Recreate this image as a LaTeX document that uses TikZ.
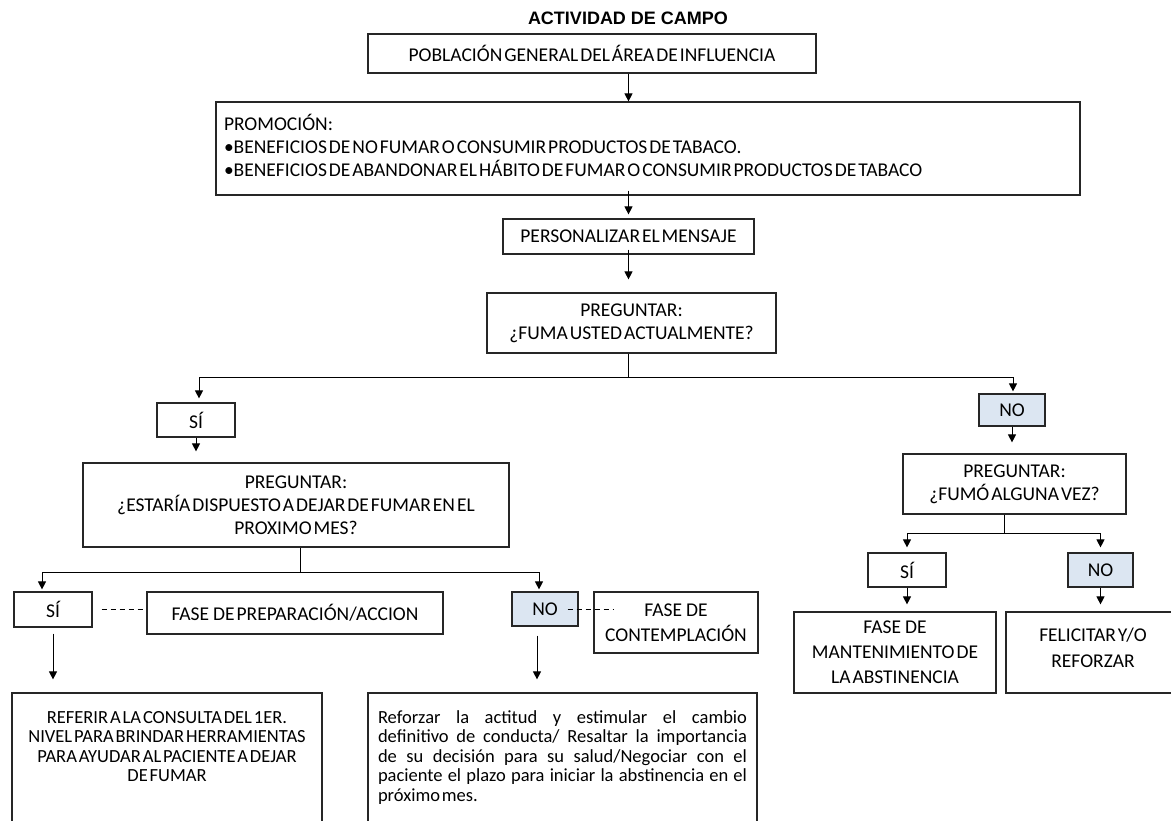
\documentclass[tikz,border=0pt]{standalone}
\usepackage{fontspec}
\setmainfont{Carlito}[WordSpace=0.45]
\newfontfamily\arial{Liberation Sans}
\usetikzlibrary{arrows.meta}
\definecolor{azulclaro}{RGB}{220,230,242}

\begin{document}
\begin{tikzpicture}[x=1pt,y=-1pt,line width=1pt,
  caja/.style={draw=black!85,line width=1.2pt,rectangle,align=center,font=\fontsize{19.5}{23}\selectfont},
  cajano/.style={caja,fill=azulclaro},
  cajabaja/.style={caja,font=\fontsize{18.5}{19.5}\selectfont},
  flecha/.style={-{Triangle[length=8pt,width=8pt]}},
  discont/.style={dash pattern=on 5pt off 4pt}]
\tikzstyle{every node}+=[inner sep=0pt]
\useasboundingbox (0,0) rectangle (1171,820);
\clip (0,0) rectangle (1171,820);
\node (titulo) at (628,18) {\arial\bfseries\fontsize{18}{20}\selectfont ACTIVIDAD DE CAMPO};
\node[caja,minimum width=448pt,minimum height=39pt] (poblacion) at (592,53.5) {POBLACIÓN GENERAL DEL ÁREA DE INFLUENCIA};
\node[caja,minimum width=864pt,minimum height=93pt,text width=848pt,align=left] (promocion) at (648,148.5) {\spaceskip=0pt\relax PROMOCIÓN:\\ •BENEFICIOS DE NO FUMAR O CONSUMIR PRODUCTOS DE TABACO.\\ •BENEFICIOS DE ABANDONAR EL HÁBITO DE FUMAR O CONSUMIR PRODUCTOS DE TABACO\vspace{6pt}};
\node[caja,minimum width=251pt,minimum height=35pt] (personalizar) at (628.5,236.5) {PERSONALIZAR EL MENSAJE};
\node[caja,minimum width=289pt,minimum height=60pt] (fuma) at (631.5,323) {PREGUNTAR:\\ ¿FUMA USTED ACTUALMENTE?};
\coordinate (cruce1) at (628,377);
\node[caja,minimum width=78pt,minimum height=34pt] (si1) at (196,420) {SÍ};
\node[caja,minimum width=426pt,minimum height=84pt] (dispuesto) at (296,505) {PREGUNTAR:\\ ¿ESTARÍA DISPUESTO A DEJAR DE FUMAR EN EL\\ PROXIMO MES?};
\node[cajano,minimum width=66pt,minimum height=32pt] (no1) at (1012,410) {NO};
\node[caja,minimum width=223pt,minimum height=60pt] (fumo) at (1014.5,484) {PREGUNTAR:\\ ¿FUMÓ ALGUNA VEZ?};
\coordinate (cruce2) at (300,572);
\node[caja,minimum width=78pt,minimum height=35pt] (si2) at (53,609.5) {SÍ};
\node[caja,minimum width=296pt,minimum height=42pt] (preparacion) at (295,613) {FASE~ DE PREPARACIÓN/ACCION};
\node[cajano,minimum width=66pt,minimum height=34pt] (no2) at (545,609) {NO};
\node[caja,minimum width=164pt,minimum height=61pt,font=\fontsize{19.5}{25}\selectfont] (contemplacion) at (676,622.5) {FASE~ DE\\ CONTEMPLACIÓN};
\node[cajabaja,inner xsep=7pt] (referir) at (167,763) {\parbox[c][140pt][t]{296pt}{\centering\rule{0pt}{30pt}REFERIR A LA CONSULTA DEL 1ER.\\ NIVEL PARA BRINDAR HERRAMIENTAS\\ PARA AYUDAR AL PACIENTE A DEJAR\\ DE FUMAR}};
\node[cajabaja,inner xsep=10pt] (reforzar) at (562.5,763) {\parbox[c][140pt][t]{369pt}{\tolerance=10000\hyphenpenalty=10000\rule{0pt}{30pt}Reforzar la actitud y estimular el cambio\linebreak definitivo de conducta/ Resaltar la importancia\linebreak de su decisión para su salud/Negociar con el\linebreak paciente el plazo para iniciar la abstinencia en el\linebreak próximo mes.}};
\coordinate (cruce3) at (1004,533);
\node[caja,minimum width=78pt,minimum height=34pt] (si3) at (907,570) {SÍ};
\node[cajano,minimum width=65pt,minimum height=34pt] (no3) at (1100.5,570) {NO};
\node[caja,minimum width=202pt,minimum height=81pt,font=\fontsize{19.5}{25}\selectfont] (mantenimiento) at (895,652.5) {FASE~ DE\\ MANTENIMIENTO DE\\ LA ABSTINENCIA};
\node[caja,minimum width=174pt,minimum height=81pt,font=\fontsize{19.5}{26}\selectfont] (felicitar) at (1093,652.5) {FELICITAR Y/O\\ REFORZAR\vspace{10pt}};
\draw[flecha] (poblacion.south -| personalizar) -- (promocion.north -| personalizar);
\draw[flecha,shorten <=-5pt,shorten >=4pt] (promocion.south -| personalizar) -- (personalizar.north);
\draw[flecha,shorten <=-5pt,shorten >=13pt] (personalizar.south) -- (fuma.north -| personalizar);
\draw (fuma.south -| cruce1) -- (cruce1);
\draw[flecha,shorten >=4pt] (cruce1) -| ([xshift=3pt]si1.north);
\draw[flecha,shorten >=2pt] (cruce1) -| ([xshift=1pt]no1.north);
\draw[flecha,shorten >=11pt] (si1.south) -- (si1.south |- dispuesto.north);
\draw[flecha,shorten >=11pt] (no1.south) -- (no1.south |- fumo.north);
\draw (dispuesto.south -| cruce2) -- (cruce2);
\draw[flecha,shorten >=2pt] (cruce2) -| ([xshift=-11pt]si2.north);
\draw[flecha,shorten >=2pt] (cruce2) -| ([xshift=-6pt]no2.north);
\draw[discont,shorten <=9pt] (si2.east) -- (preparacion.west |- si2.east);
\draw[discont,shorten <=-11pt,shorten >=-21pt] (no2.east) -- (contemplacion.west |- no2.east);
\draw[flecha,shorten <=6pt,shorten >=13pt] (si2.south) -- (si2.south |- referir.north);
\draw[flecha,shorten <=9pt,shorten >=13pt] ([xshift=-8pt]no2.south) -- ([xshift=-8pt]no2.south |- reforzar.north);
\draw (fumo.south -| cruce3) -- (cruce3);
\draw[flecha,shorten >=5pt] (cruce3) -| (si3.north);
\draw[flecha,shorten >=5pt] (cruce3) -| (no3.north);
\draw[flecha,shorten >=7pt] (si3.south) -- (si3.south |- mantenimiento.north);
\draw[flecha,shorten >=7pt] (no3.south) -- (no3.south |- felicitar.north);
\end{tikzpicture}
\end{document}
